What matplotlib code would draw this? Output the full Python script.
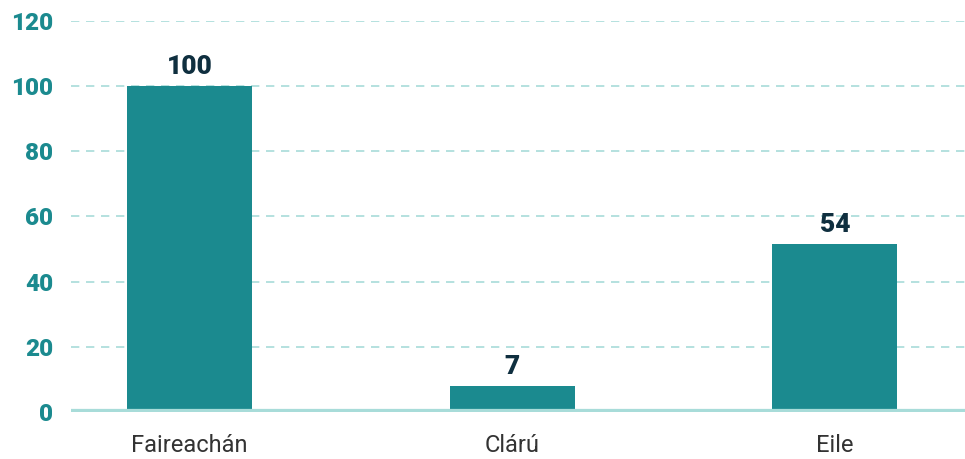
import matplotlib.pyplot as plt

categories = ['Faireachán', 'Clárú', 'Eile']
bar_values = [100, 8, 51.5]
value_labels = ['100', '7', '54']
y_ticks = [0, 20, 40, 60, 80, 100, 120]

bar_color = '#1b8a8f'
grid_color = '#a8dcd9'
label_color = '#0f2f3f'

plt.rcParams['font.family'] = ['Roboto', 'DejaVu Sans']

fig = plt.figure(figsize=(9.65, 4.59), dpi=100)
ax = fig.add_axes([0.0736, 0.103, 0.9264, 0.851])

x = range(len(categories))
bars = ax.bar(x, bar_values, width=0.387, color=bar_color, zorder=2)

# value labels above the bars
for rect, txt in zip(bars, value_labels):
    ax.annotate(txt, (rect.get_x() + rect.get_width() / 2, rect.get_height()),
                xytext=(0, 5), textcoords='offset points',
                ha='center', va='bottom', fontsize=19, fontweight='heavy',
                color=label_color)

ax.set_xlim(-0.367, 2.403)
ax.set_ylim(0, 120)
ax.set_yticks(y_ticks)
ax.set_xticks(list(x))
ax.set_xticklabels(categories, fontsize=17, color='#333333')

ax.tick_params(axis='y', length=0, pad=13, labelsize=17.5, labelcolor=bar_color)
ax.tick_params(axis='x', length=0, pad=16)
for lbl in ax.get_yticklabels():
    lbl.set_fontweight('heavy')

ax.yaxis.grid(True, linestyle=(0, (5, 4)), color=grid_color, linewidth=1.2, zorder=1)
ax.set_axisbelow(True)
ax.axhline(0, color=grid_color, linewidth=4.5, zorder=3)

for side in ['top', 'right', 'left', 'bottom']:
    ax.spines[side].set_visible(False)

fig.savefig('out.png', dpi=100)
